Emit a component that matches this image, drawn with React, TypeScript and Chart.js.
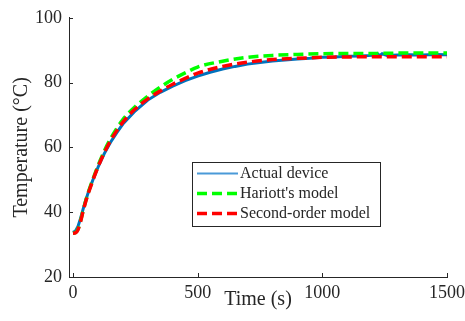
import React, { useEffect, useRef } from 'react';
import { Chart, registerables } from 'chart.js';

Chart.register(...registerables);

const FONT = '"Liberation Serif", "Times New Roman", serif';
const AXIS = '#262626';

// Time stamps (s)
const modelTimes = [0, 10, 20, 30, 40, 50, 60, 80, 100, 125, 150, 175, 200, 250, 300, 350, 400, 450, 500, 600, 700, 800, 900, 1000, 1100, 1200, 1300, 1400, 1500];
const deviceTimes = [0, 10, 20, 30, 40, 50, 60, 80, 100, 125, 150, 175, 200, 250, 300, 350, 400, 450, 500, 550, 600, 650, 700, 750, 800, 850, 900, 950, 1000, 1050, 1100, 1150, 1200, 1220, 1230, 1240, 1260, 1300, 1350, 1400, 1450, 1500];

// Temperatures (°C)
const actualDevice = [33.8, 34.2, 35.6, 38.0, 40.8, 43.4, 45.8, 50.0, 53.8, 58.0, 61.5, 64.5, 67.2, 71.3, 74.6, 77.0, 78.9, 80.6, 82.0, 83.2, 84.2, 85.0, 85.7, 86.2, 86.7, 87.0, 87.3, 87.5, 87.8, 87.9, 88.1, 88.2, 88.4, 89.0, 88.3, 88.9, 88.4, 88.5, 88.6, 88.5, 88.7, 88.6];
const hariottModel = [33.5, 33.7, 34.8, 37.2, 40.3, 43.2, 45.8, 50.2, 54.3, 58.8, 62.6, 65.8, 68.6, 72.6, 75.8, 78.6, 81.0, 83.0, 84.8, 86.6, 87.8, 88.4, 88.7, 88.9, 89.0, 89.0, 89.1, 89.1, 89.1];
const secondOrderModel = [33.5, 33.6, 34.6, 37.0, 40.1, 43.0, 45.5, 49.9, 53.9, 58.3, 62.0, 65.1, 67.8, 71.9, 75.0, 77.4, 79.5, 81.3, 82.9, 85.0, 86.3, 87.1, 87.5, 87.8, 87.9, 88.0, 88.0, 88.0, 88.0];

const xTicks = [0, 500, 1000, 1500];
const yTicks = [20, 40, 60, 80, 100];

const seriesLabels = ['Actual device', "Hariott's model", 'Second-order model'];

const toPoints = (xs: number[], ys: number[]) => xs.map((x, i) => ({ x, y: ys[i] }));

const matlabPlugin = {
  id: 'matlabDecor',
  afterDraw(chart: any) {
    const ctx = chart.ctx as CanvasRenderingContext2D;
    const ca = chart.chartArea;
    const xs = chart.scales.x;
    const ys = chart.scales.y;
    ctx.save();
    // inward ticks
    ctx.strokeStyle = AXIS;
    ctx.lineWidth = 1;
    xTicks.forEach((v) => {
      const px = Math.round(xs.getPixelForValue(v)) + 0.5;
      ctx.beginPath();
      ctx.moveTo(px, ca.bottom);
      ctx.lineTo(px, ca.bottom - 4);
      ctx.stroke();
    });
    yTicks.forEach((v) => {
      const py = Math.round(ys.getPixelForValue(v)) + 0.5;
      ctx.beginPath();
      ctx.moveTo(ca.left, py);
      ctx.lineTo(ca.left + 4, py);
      ctx.stroke();
    });
    // legend box
    const bx = 192.5, by = 162.5, bw = 188, bh = 64;
    ctx.fillStyle = '#ffffff';
    ctx.fillRect(bx, by, bw, bh);
    ctx.strokeStyle = AXIS;
    ctx.lineWidth = 1;
    ctx.strokeRect(bx, by, bw, bh);
    const ds = chart.data.datasets;
    ds.forEach((d: any, i: number) => {
      const cy = 173.5 + i * 20;
      ctx.beginPath();
      ctx.strokeStyle = i === 0 ? '#4a9ad8' : d.borderColor;
      ctx.lineWidth = i === 0 ? 2 : 3.5;
      ctx.setLineDash(d.borderDash || []);
      ctx.moveTo(197, cy);
      ctx.lineTo(238, cy);
      ctx.stroke();
      ctx.setLineDash([]);
      ctx.fillStyle = AXIS;
      ctx.font = `16px ${FONT}`;
      ctx.textBaseline = 'middle';
      ctx.textAlign = 'left';
      ctx.fillText(d.label, 240, cy);
    });
    ctx.restore();
  },
};

export default function App() {
  const ref = useRef<HTMLCanvasElement | null>(null);
  useEffect(() => {
    document.body.style.margin = '0';
    const canvas = ref.current!;
    const chart = new Chart(canvas, {
      type: 'line',
      data: {
        datasets: [
          {
            label: seriesLabels[0],
            data: toPoints(deviceTimes, actualDevice),
            borderColor: '#0072BD',
            borderWidth: 3,
            pointRadius: 0,
            order: 2,
            tension: 0,
          },
          {
            label: seriesLabels[1],
            data: toPoints(modelTimes, hariottModel),
            borderColor: '#00FF00',
            borderWidth: 3.5,
            borderDash: [10, 5],
            pointRadius: 0,
            order: 1,
            cubicInterpolationMode: 'monotone',
          },
          {
            label: seriesLabels[2],
            data: toPoints(modelTimes, secondOrderModel),
            borderColor: '#FF0000',
            borderWidth: 3.5,
            borderDash: [10, 5],
            pointRadius: 0,
            order: 0,
            cubicInterpolationMode: 'monotone',
          },
        ],
      },
      options: {
        animation: false,
        responsive: false,
        maintainAspectRatio: false,
        layout: { padding: { top: 17, right: 18, left: 0, bottom: 0 } },
        plugins: { legend: { display: false }, tooltip: { enabled: false } },
        scales: {
          x: {
            type: 'linear',
            min: -16,
            max: 1500,
            afterFit: (s: any) => { s.height = 44; s.paddingRight = 0; s.paddingLeft = 0; },
            afterBuildTicks: (s: any) => { s.ticks = xTicks.map((v) => ({ value: v })); },
            grid: { display: false, drawTicks: false },
            border: { display: true, color: AXIS, width: 1 },
            ticks: { color: AXIS, font: { family: FONT, size: 18 }, padding: 5, maxRotation: 0, callback: (v: any) => String(v) },
            title: { display: true, text: 'Time (s)', color: AXIS, font: { family: FONT, size: 20 }, padding: { top: 0, bottom: 9 } },
          },
          y: {
            type: 'linear',
            min: 20,
            max: 100,
            afterFit: (s: any) => { s.width = 69; },
            afterBuildTicks: (s: any) => { s.ticks = yTicks.map((v) => ({ value: v })); },
            grid: { display: false, drawTicks: false },
            border: { display: true, color: AXIS, width: 1 },
            ticks: { color: AXIS, font: { family: FONT, size: 18 }, padding: 7, callback: (v: any) => String(v) },
            title: { display: true, text: 'Temperature (°C)', color: AXIS, font: { family: FONT, size: 20 }, padding: { top: 10, bottom: 0 } },
          },
        },
      },
      plugins: [matlabPlugin],
    } as any);
    return () => chart.destroy();
  }, []);
  return (
    <div style={{ position: 'absolute', left: 0, top: 0, width: 465, height: 321 }}>
      <canvas ref={ref} width={465} height={321} style={{ width: 465, height: 321, display: 'block' }} />
    </div>
  );
}
